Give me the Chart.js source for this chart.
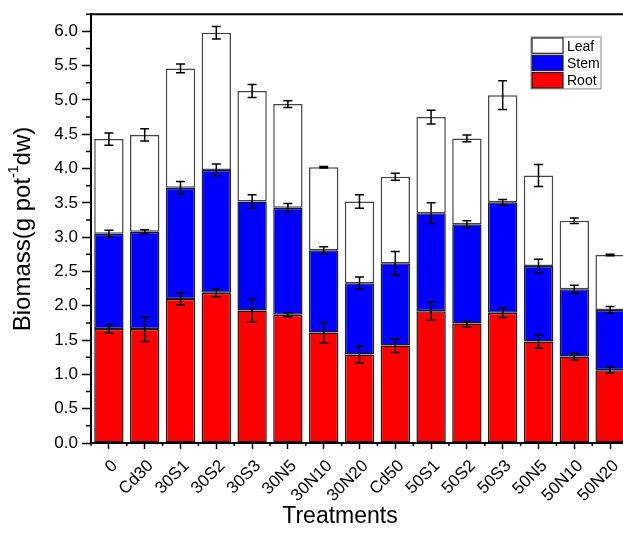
<!DOCTYPE html>
<html>
<head>
<meta charset="utf-8">
<script src="https://cdn.jsdelivr.net/npm/chart.js@4.4.1/dist/chart.umd.min.js"></script>
<style>
    html, body { margin: 0; padding: 0; background: #fff; overflow: hidden; }
    #wrap { width: 628px; height: 533px; }
</style>
</head>
<body>
<div id="wrap"><canvas id="myChart" width="628" height="533"></canvas></div>
<script>
// treatments on the x axis
const treatments = ['0', 'Cd30', '30S1', '30S2', '30S3', '30N5', '30N10', '30N20', 'Cd50', '50S1', '50S2', '50S3', '50N5', '50N10', '50N20'];

// biomass per organ (g pot-1 dw), stacked root -> stem -> leaf
const rootMass = [1.66, 1.66, 2.10, 2.19, 1.93, 1.87, 1.61, 1.29, 1.42, 1.92, 1.74, 1.90, 1.48, 1.26, 1.06];
const stemMass = [1.39, 1.42, 1.62, 1.79, 1.59, 1.56, 1.20, 1.04, 1.20, 1.43, 1.45, 1.61, 1.10, 0.98, 0.88];
const leafMass = [1.38, 1.41, 1.74, 2.00, 1.61, 1.51, 1.21, 1.19, 1.26, 1.40, 1.25, 1.56, 1.32, 1.00, 0.80];

// error bars (+/-)
const rootErr = [0.06, 0.18, 0.09, 0.06, 0.17, 0.03, 0.15, 0.12, 0.10, 0.13, 0.045, 0.07, 0.10, 0.05, 0.045];
const stemErr = [0.05, 0.03, 0.09, 0.085, 0.10, 0.06, 0.05, 0.09, 0.17, 0.15, 0.05, 0.04, 0.10, 0.06, 0.05];
const leafErr = [0.09, 0.09, 0.065, 0.09, 0.095, 0.05, 0.01, 0.10, 0.05, 0.10, 0.05, 0.21, 0.16, 0.04, 0.01];

const yTickValues = [0, 0.5, 1.0, 1.5, 2.0, 2.5, 3.0, 3.5, 4.0, 4.5, 5.0, 5.5, 6.0];
const yMax = 6.25;

const fontFamily = '"Liberation Sans", Arial, sans-serif';

const errorBars = {
    id: 'errorBars',
    afterDatasetsDraw(chart) {
        const ctx = chart.ctx;
        const y = chart.scales.y;
        ctx.save();
        ctx.strokeStyle = '#000';
        ctx.lineWidth = 1.5;
        chart.data.datasets.forEach((ds, d) => {
            const meta = chart.getDatasetMeta(d);
            meta.data.forEach((bar, i) => {
                let top = 0;
                for (let k = 0; k <= d; k++) top += chart.data.datasets[k].data[i];
                const e = ds.errors[i];
                const yHi = y.getPixelForValue(top + e);
                const yLo = y.getPixelForValue(top - e);
                const x = bar.x;
                ctx.beginPath();
                ctx.moveTo(x, yHi); ctx.lineTo(x, yLo);
                ctx.moveTo(x - 4.5, yHi); ctx.lineTo(x + 4.5, yHi);
                ctx.moveTo(x - 4.5, yLo); ctx.lineTo(x + 4.5, yLo);
                ctx.stroke();
            });
        });
        ctx.restore();
    }
};

const frameAndLabels = {
    id: 'frameAndLabels',
    afterDraw(chart) {
        const ctx = chart.ctx;
        const area = chart.chartArea;
        const x = chart.scales.x;
        const y = chart.scales.y;
        ctx.save();
        ctx.strokeStyle = '#000';

        // top frame line
        ctx.lineWidth = 2;
        ctx.beginPath();
        ctx.moveTo(area.left - 1, area.top);
        ctx.lineTo(area.right, area.top);
        ctx.stroke();

        // minor ticks
        ctx.lineWidth = 1.5;
        ctx.beginPath();
        for (let v = 0.25; v <= yMax + 0.001; v += 0.5) {
            const py = y.getPixelForValue(v);
            ctx.moveTo(area.left - 5, py); ctx.lineTo(area.left, py);
        }
        for (let i = 0; i <= treatments.length; i++) {
            const px = x.getPixelForValue(i - 0.5);
            ctx.moveTo(px, area.bottom); ctx.lineTo(px, area.bottom + 3);
        }
        ctx.stroke();

        // axis titles
        ctx.fillStyle = '#000';
        ctx.font = '23px ' + fontFamily;
        ctx.textAlign = 'center';
        ctx.textBaseline = 'middle';
        ctx.fillText('Treatments', 340, 517);

        ctx.translate(23, 229);
        ctx.rotate(-Math.PI / 2);
        const big = '24px ' + fontFamily;
        const small = '14px ' + fontFamily;
        const parts = [['Biomass(g pot', big, 0], ['-1', small, -9], ['dw)', big, 0]];
        let total = 0;
        parts.forEach(p => { ctx.font = p[1]; total += ctx.measureText(p[0]).width; });
        let cx = -total / 2;
        ctx.textAlign = 'left';
        parts.forEach(p => {
            ctx.font = p[1];
            ctx.fillText(p[0], cx, p[2]);
            cx += ctx.measureText(p[0]).width;
        });
        ctx.restore();

        // legend
        ctx.save();
        const lx = 531, ly = 37, rowH = 17.3;
        const items = [['Leaf', '#ffffff'], ['Stem', '#0000ff'], ['Root', '#ff0000']];
        ctx.strokeStyle = '#888';
        ctx.lineWidth = 1;
        ctx.strokeRect(lx, ly, 70, rowH * 3);
        ctx.font = '14px ' + fontFamily;
        ctx.textBaseline = 'middle';
        items.forEach((it, k) => {
            const ty = ly + k * rowH;
            ctx.fillStyle = it[1];
            ctx.fillRect(lx + 1, ty + 1, 31, rowH - 2);
            ctx.strokeStyle = '#222';
            ctx.lineWidth = 1.2;
            ctx.strokeRect(lx + 1, ty + 1, 31, rowH - 2);
            ctx.fillStyle = '#000';
            ctx.fillText(it[0], lx + 36, ty + rowH / 2 + 1);
        });
        ctx.restore();
    }
};

const ctx = document.getElementById('myChart').getContext('2d');
new Chart(ctx, {
    type: 'bar',
    data: {
        labels: treatments,
        datasets: [
            { label: 'Root', data: rootMass, errors: rootErr, backgroundColor: '#ff0000', borderColor: '#1a1a1a' },
            { label: 'Stem', data: stemMass, errors: stemErr, backgroundColor: '#0000ff', borderColor: '#1a1a1a' },
            { label: 'Leaf', data: leafMass, errors: leafErr, backgroundColor: '#ffffff', borderColor: '#444444' }
        ]
    },
    options: {
        responsive: false,
        animation: false,
        datasets: {
            bar: { barPercentage: 0.82, categoryPercentage: 1.0, borderWidth: 1.5, borderSkipped: false }
        },
        layout: { padding: { top: 13, right: 0, left: 0, bottom: 0 } },
        plugins: {
            legend: { display: false },
            tooltip: { enabled: false }
        },
        scales: {
            x: {
                stacked: true,
                offset: true,
                afterFit: s => { s.height = 90; s.paddingLeft = 0; s.paddingRight = 0; },
                ticks: {
                    color: '#000',
                    font: { family: fontFamily, size: 17 },
                    minRotation: 45,
                    maxRotation: 45,
                    autoSkip: false,
                    padding: 7,
                    labelOffset: 6
                },
                grid: { offset: false, drawOnChartArea: false, tickLength: 6, tickWidth: 1.5, tickColor: '#000' },
                border: { color: '#000', width: 2 }
            },
            y: {
                stacked: true,
                min: 0,
                max: yMax,
                afterFit: s => { s.width = 91; },
                afterBuildTicks: s => { s.ticks = yTickValues.map(v => ({ value: v })); },
                ticks: {
                    color: '#000',
                    font: { family: fontFamily, size: 17 },
                    padding: 4,
                    callback: v => Number(v).toFixed(1)
                },
                grid: { drawOnChartArea: false, tickLength: 9, tickWidth: 1.5, tickColor: '#000' },
                border: { color: '#000', width: 2 }
            }
        }
    },
    plugins: [errorBars, frameAndLabels]
});
</script>
</body>
</html>
